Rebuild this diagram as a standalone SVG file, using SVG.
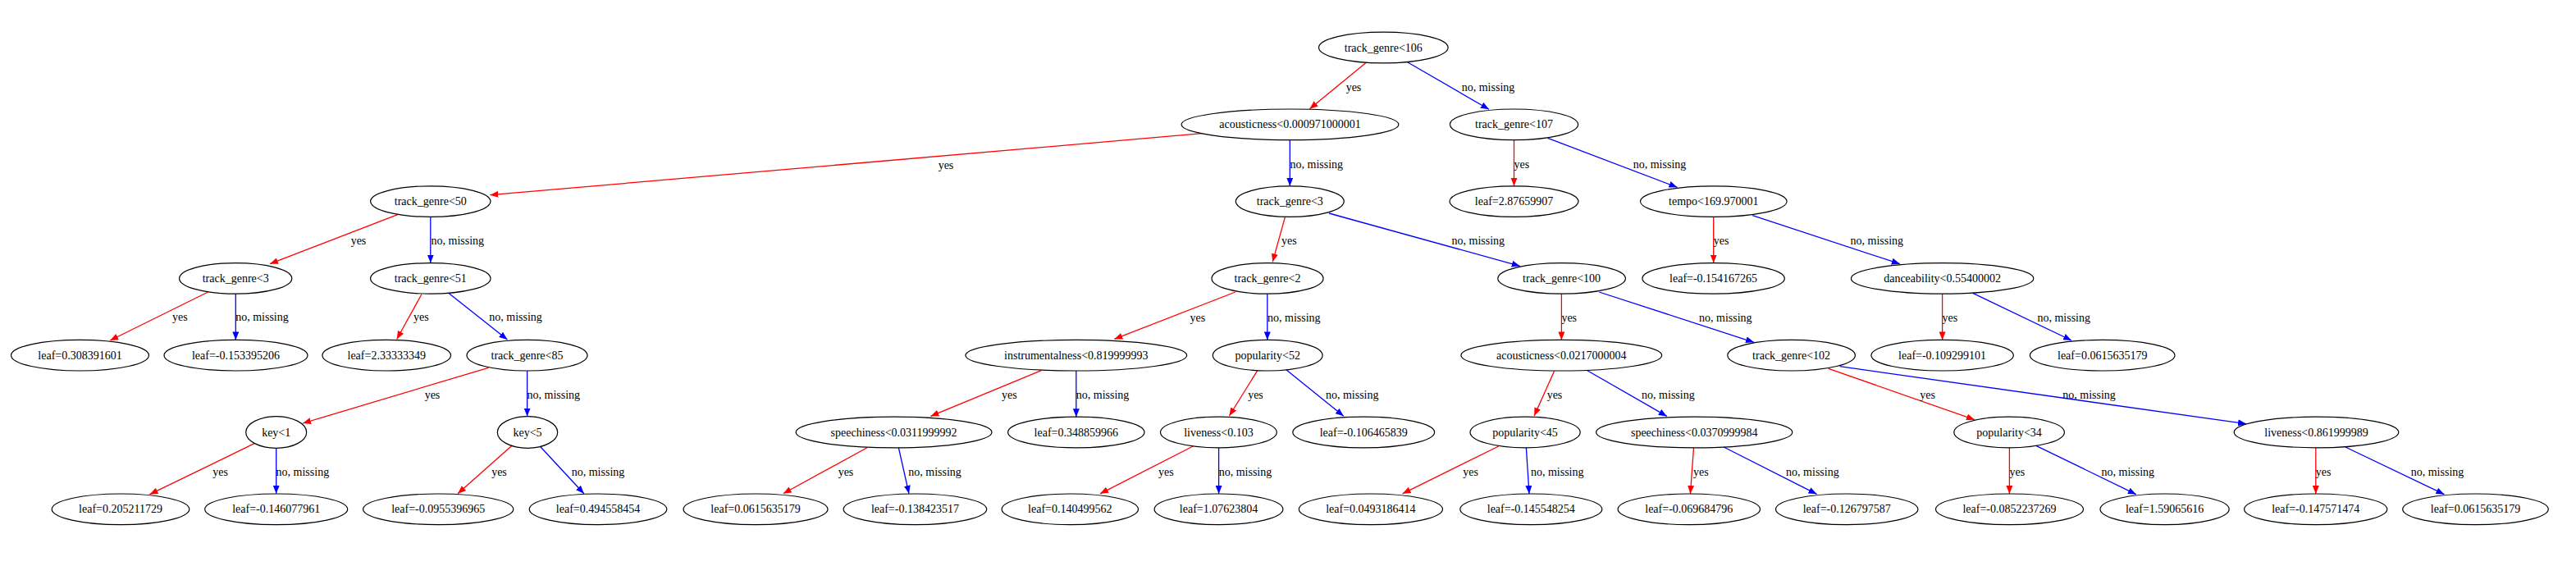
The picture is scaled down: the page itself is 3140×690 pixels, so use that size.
<svg xmlns="http://www.w3.org/2000/svg" width="3140" height="690" viewBox="0 0 3140 690">
<style>
text{font-family:"Liberation Serif","Times New Roman",serif;font-size:14px;fill:#000}
.n ellipse{fill:none;stroke:#000;stroke-width:1.2}
.n text{text-anchor:middle}
.y{stroke:#ff0000;stroke-width:1.3;fill:none;marker-end:url(#ar)}
.b{stroke:#0000ff;stroke-width:1.3;fill:none;marker-end:url(#ab)}
.m{text-anchor:middle}
.s{text-anchor:start}
</style>
<defs>
<marker id="ar" viewBox="0 0 10 8" refX="10" refY="4" markerWidth="10" markerHeight="8" markerUnits="userSpaceOnUse" orient="auto"><path d="M0,0 L10,4 L0,8 z" fill="#ff0000"/></marker>
<marker id="ab" viewBox="0 0 10 8" refX="10" refY="4" markerWidth="10" markerHeight="8" markerUnits="userSpaceOnUse" orient="auto"><path d="M0,0 L10,4 L0,8 z" fill="#0000ff"/></marker>
</defs>
<rect width="3140" height="690" fill="#fff"/>
<g id="edges">
<line class="y" x1="1664.7" y1="76.7" x2="1596.4" y2="132.7"/><text class="m" x="1650" y="111.2">yes</text>
<line class="b" x1="1716" y1="76" x2="1815" y2="133.3"/><text class="m" x="1814" y="111.2">no, missing</text>
<line class="y" x1="1465" y1="162.7" x2="597.3" y2="237.7"/><text class="m" x="1153" y="205.5">yes</text>
<line class="b" x1="1572.3" y1="170.7" x2="1572.3" y2="226.8"/><text class="s" x="1572.5" y="204.5">no, missing</text>
<line class="y" x1="1845.5" y1="170.6" x2="1845.5" y2="226.8"/><text class="s" x="1845.5" y="204.5">yes</text>
<line class="b" x1="1886.6" y1="168.3" x2="2044.4" y2="228.3"/><text class="m" x="2023" y="204.5">no, missing</text>
<line class="y" x1="484.7" y1="261.7" x2="329" y2="321.7"/><text class="m" x="437" y="297.8">yes</text>
<line class="b" x1="524.8" y1="264.5" x2="524.8" y2="320.6"/><text class="s" x="525.5" y="297.8">no, missing</text>
<line class="y" x1="1566.5" y1="264.3" x2="1551.2" y2="319.3"/><text class="s" x="1562" y="297.8">yes</text>
<line class="b" x1="1620" y1="260" x2="1852.7" y2="324.3"/><text class="m" x="1801.8" y="297.8">no, missing</text>
<line class="y" x1="2088.7" y1="264.3" x2="2088.7" y2="320.6"/><text class="s" x="2088.7" y="297.8">yes</text>
<line class="b" x1="2136.2" y1="262.7" x2="2315.8" y2="321.7"/><text class="m" x="2287.8" y="297.8">no, missing</text>
<line class="y" x1="253.6" y1="356" x2="134.2" y2="415"/><text class="m" x="219.4" y="391.2">yes</text>
<line class="b" x1="287.3" y1="358.2" x2="287.3" y2="414.4"/><text class="s" x="287.2" y="391.2">no, missing</text>
<line class="y" x1="513.8" y1="359" x2="483.7" y2="413.5"/><text class="s" x="504" y="391.2">yes</text>
<line class="b" x1="547.4" y1="357.7" x2="618.4" y2="414"/><text class="m" x="628.6" y="391.2">no, missing</text>
<line class="y" x1="1505.8" y1="356" x2="1358.3" y2="413.4"/><text class="m" x="1459.9" y="391.8">yes</text>
<line class="b" x1="1544.8" y1="358.2" x2="1544.8" y2="414.4"/><text class="s" x="1545" y="391.8">no, missing</text>
<line class="y" x1="1903.4" y1="358.2" x2="1903.4" y2="414.4"/><text class="s" x="1903.4" y="391.8">yes</text>
<line class="b" x1="1949.2" y1="356" x2="2138" y2="417.3"/><text class="m" x="2103.3" y="391.8">no, missing</text>
<line class="y" x1="2367.6" y1="358.2" x2="2367.6" y2="414.4"/><text class="s" x="2367.6" y="391.8">yes</text>
<line class="b" x1="2404.8" y1="357.3" x2="2525" y2="415"/><text class="m" x="2515.7" y="391.8">no, missing</text>
<line class="y" x1="595.3" y1="448.3" x2="369.1" y2="516"/><text class="m" x="527" y="485.5">yes</text>
<line class="b" x1="642.6" y1="452" x2="642.6" y2="507.6"/><text class="s" x="642.5" y="485.5">no, missing</text>
<line class="y" x1="1269.3" y1="451.7" x2="1134.4" y2="507.4"/><text class="m" x="1230.3" y="485.5">yes</text>
<line class="b" x1="1311.8" y1="452" x2="1311.8" y2="508.2"/><text class="s" x="1311.8" y="485.5">no, missing</text>
<line class="y" x1="1532.8" y1="451.7" x2="1498.4" y2="507"/><text class="m" x="1530.5" y="485.5">yes</text>
<line class="b" x1="1567.8" y1="450.7" x2="1637.8" y2="507.3"/><text class="m" x="1648.2" y="485.5">no, missing</text>
<line class="y" x1="1894.6" y1="452.3" x2="1870.1" y2="507"/><text class="m" x="1895" y="485.5">yes</text>
<line class="b" x1="1934.9" y1="451.7" x2="2031.8" y2="507.4"/><text class="m" x="2033.4" y="485.5">no, missing</text>
<line class="y" x1="2228.8" y1="449.3" x2="2407" y2="511.7"/><text class="m" x="2349.7" y="485.5">yes</text>
<line class="b" x1="2242.6" y1="446.7" x2="2738" y2="516.7"/><text class="m" x="2546.6" y="485.5">no, missing</text>
<line class="y" x1="310" y1="540.7" x2="182.5" y2="602.7"/><text class="m" x="268.7" y="579.5">yes</text>
<line class="b" x1="336.7" y1="546.3" x2="336.7" y2="601.8"/><text class="s" x="336.6" y="579.5">no, missing</text>
<line class="y" x1="624" y1="543.3" x2="558" y2="601.8"/><text class="m" x="608.5" y="579.5">yes</text>
<line class="b" x1="658.4" y1="544.3" x2="711.8" y2="601.8"/><text class="m" x="729" y="579.5">no, missing</text>
<line class="y" x1="1056.9" y1="545.7" x2="954.7" y2="601.8"/><text class="m" x="1031" y="579.5">yes</text>
<line class="b" x1="1095.4" y1="546" x2="1108" y2="601.8"/><text class="m" x="1139.6" y="579.5">no, missing</text>
<line class="y" x1="1454.2" y1="544" x2="1341" y2="601.8"/><text class="m" x="1421.4" y="579.5">yes</text>
<line class="b" x1="1485.6" y1="546" x2="1485.6" y2="602"/><text class="s" x="1485.7" y="579.5">no, missing</text>
<line class="y" x1="1826.7" y1="544" x2="1709.6" y2="601.8"/><text class="m" x="1792.6" y="579.5">yes</text>
<line class="b" x1="1860.4" y1="546" x2="1864" y2="602"/><text class="m" x="1898.2" y="579.5">no, missing</text>
<line class="y" x1="2064.5" y1="546" x2="2060.4" y2="602"/><text class="s" x="2064" y="579.5">yes</text>
<line class="b" x1="2101.2" y1="545" x2="2214.5" y2="602.3"/><text class="m" x="2209.4" y="579.5">no, missing</text>
<line class="y" x1="2449.4" y1="546" x2="2449.4" y2="602"/><text class="s" x="2449.5" y="579.5">yes</text>
<line class="b" x1="2481.9" y1="543.3" x2="2603.8" y2="602.7"/><text class="m" x="2593.8" y="579.5">no, missing</text>
<line class="y" x1="2822.8" y1="546" x2="2822.8" y2="602"/><text class="s" x="2822.7" y="579.5">yes</text>
<line class="b" x1="2859" y1="545" x2="2979.4" y2="602.7"/><text class="m" x="2971" y="579.5">no, missing</text>
</g>
<g id="n0" class="n"><ellipse cx="1686.3" cy="58" rx="78.8" ry="18.8"/><text x="1686.3" y="62.5">track_genre&lt;106</text></g>
<g id="n1" class="n"><ellipse cx="1572.5" cy="151.8" rx="132.4" ry="18.8"/><text x="1572.5" y="156.3">acousticness&lt;0.000971000001</text></g>
<g id="n2" class="n"><ellipse cx="1845.5" cy="151.8" rx="78.1" ry="18.8"/><text x="1845.5" y="156.3">track_genre&lt;107</text></g>
<g id="n3" class="n"><ellipse cx="524.8" cy="245.6" rx="73.2" ry="18.8"/><text x="524.8" y="250.1">track_genre&lt;50</text></g>
<g id="n4" class="n"><ellipse cx="1572.3" cy="245.6" rx="66" ry="18.8"/><text x="1572.3" y="250.1">track_genre&lt;3</text></g>
<g id="n5" class="n"><ellipse cx="1845.5" cy="245.6" rx="78.5" ry="18.8"/><text x="1845.5" y="250.1">leaf=2.87659907</text></g>
<g id="n6" class="n"><ellipse cx="2088.8" cy="245.6" rx="89.3" ry="18.8"/><text x="2088.8" y="250.1">tempo&lt;169.970001</text></g>
<g id="n7" class="n"><ellipse cx="287.2" cy="339.4" rx="68.6" ry="18.8"/><text x="287.2" y="343.9">track_genre&lt;3</text></g>
<g id="n8" class="n"><ellipse cx="524.8" cy="339.4" rx="73.2" ry="18.8"/><text x="524.8" y="343.9">track_genre&lt;51</text></g>
<g id="n9" class="n"><ellipse cx="1545" cy="339.4" rx="68" ry="18.8"/><text x="1545" y="343.9">track_genre&lt;2</text></g>
<g id="n10" class="n"><ellipse cx="1903.6" cy="339.4" rx="77.8" ry="18.8"/><text x="1903.6" y="343.9">track_genre&lt;100</text></g>
<g id="n11" class="n"><ellipse cx="2088.6" cy="339.4" rx="86.7" ry="18.8"/><text x="2088.6" y="343.9">leaf=-0.154167265</text></g>
<g id="n12" class="n"><ellipse cx="2367.6" cy="339.4" rx="111.2" ry="18.8"/><text x="2367.6" y="343.9">danceability&lt;0.55400002</text></g>
<g id="n13" class="n"><ellipse cx="97.5" cy="433.2" rx="84" ry="18.8"/><text x="97.5" y="437.7">leaf=0.308391601</text></g>
<g id="n14" class="n"><ellipse cx="287.5" cy="433.2" rx="87.5" ry="18.8"/><text x="287.5" y="437.7">leaf=-0.153395206</text></g>
<g id="n15" class="n"><ellipse cx="471.2" cy="433.2" rx="78.3" ry="18.8"/><text x="471.2" y="437.7">leaf=2.33333349</text></g>
<g id="n16" class="n"><ellipse cx="642.5" cy="433.2" rx="73.5" ry="18.8"/><text x="642.5" y="437.7">track_genre&lt;85</text></g>
<g id="n17" class="n"><ellipse cx="1311.8" cy="433.2" rx="134.9" ry="18.8"/><text x="1311.8" y="437.7">instrumentalness&lt;0.819999993</text></g>
<g id="n18" class="n"><ellipse cx="1545.2" cy="433.2" rx="66.9" ry="18.8"/><text x="1545.2" y="437.7">popularity&lt;52</text></g>
<g id="n19" class="n"><ellipse cx="1903.3" cy="433.2" rx="122.4" ry="18.8"/><text x="1903.3" y="437.7">acousticness&lt;0.0217000004</text></g>
<g id="n20" class="n"><ellipse cx="2183.6" cy="433.2" rx="77.8" ry="18.8"/><text x="2183.6" y="437.7">track_genre&lt;102</text></g>
<g id="n21" class="n"><ellipse cx="2367.6" cy="433.2" rx="86.7" ry="18.8"/><text x="2367.6" y="437.7">leaf=-0.109299101</text></g>
<g id="n22" class="n"><ellipse cx="2562.7" cy="433.2" rx="88.3" ry="18.8"/><text x="2562.7" y="437.7">leaf=0.0615635179</text></g>
<g id="n23" class="n"><ellipse cx="336.7" cy="527" rx="37" ry="19.3"/><text x="336.7" y="531.5">key&lt;1</text></g>
<g id="n24" class="n"><ellipse cx="643" cy="527" rx="36.7" ry="19.3"/><text x="643" y="531.5">key&lt;5</text></g>
<g id="n25" class="n"><ellipse cx="1089.6" cy="527" rx="119.4" ry="18.8"/><text x="1089.6" y="531.5">speechiness&lt;0.0311999992</text></g>
<g id="n26" class="n"><ellipse cx="1311.8" cy="527" rx="83.2" ry="18.8"/><text x="1311.8" y="531.5">leaf=0.348859966</text></g>
<g id="n27" class="n"><ellipse cx="1485.4" cy="527" rx="70.9" ry="18.8"/><text x="1485.4" y="531.5">liveness&lt;0.103</text></g>
<g id="n28" class="n"><ellipse cx="1662.2" cy="527" rx="86.4" ry="18.8"/><text x="1662.2" y="531.5">leaf=-0.106465839</text></g>
<g id="n29" class="n"><ellipse cx="1859.1" cy="527" rx="67.1" ry="18.8"/><text x="1859.1" y="531.5">popularity&lt;45</text></g>
<g id="n30" class="n"><ellipse cx="2065.2" cy="527" rx="119.6" ry="18.8"/><text x="2065.2" y="531.5">speechiness&lt;0.0370999984</text></g>
<g id="n31" class="n"><ellipse cx="2449.1" cy="527" rx="67.3" ry="18.8"/><text x="2449.1" y="531.5">popularity&lt;34</text></g>
<g id="n32" class="n"><ellipse cx="2823.5" cy="527" rx="100.3" ry="18.8"/><text x="2823.5" y="531.5">liveness&lt;0.861999989</text></g>
<g id="n33" class="n"><ellipse cx="147" cy="620.8" rx="83.8" ry="18.8"/><text x="147" y="625.3">leaf=0.205211729</text></g>
<g id="n34" class="n"><ellipse cx="336.7" cy="620.8" rx="87" ry="18.8"/><text x="336.7" y="625.3">leaf=-0.146077961</text></g>
<g id="n35" class="n"><ellipse cx="534.2" cy="620.8" rx="91.6" ry="18.8"/><text x="534.2" y="625.3">leaf=-0.0955396965</text></g>
<g id="n36" class="n"><ellipse cx="729" cy="620.8" rx="83.8" ry="18.8"/><text x="729" y="625.3">leaf=0.494558454</text></g>
<g id="n37" class="n"><ellipse cx="921" cy="620.8" rx="88" ry="18.8"/><text x="921" y="625.3">leaf=0.0615635179</text></g>
<g id="n38" class="n"><ellipse cx="1115.4" cy="620.8" rx="87.3" ry="18.8"/><text x="1115.4" y="625.3">leaf=-0.138423517</text></g>
<g id="n39" class="n"><ellipse cx="1304.3" cy="620.8" rx="83.2" ry="18.8"/><text x="1304.3" y="625.3">leaf=0.140499562</text></g>
<g id="n40" class="n"><ellipse cx="1485.5" cy="620.8" rx="78.4" ry="18.8"/><text x="1485.5" y="625.3">leaf=1.07623804</text></g>
<g id="n41" class="n"><ellipse cx="1670.9" cy="620.8" rx="87.6" ry="18.8"/><text x="1670.9" y="625.3">leaf=0.0493186414</text></g>
<g id="n42" class="n"><ellipse cx="1866.3" cy="620.8" rx="86.5" ry="18.8"/><text x="1866.3" y="625.3">leaf=-0.145548254</text></g>
<g id="n43" class="n"><ellipse cx="2058.8" cy="620.8" rx="86.7" ry="18.8"/><text x="2058.8" y="625.3">leaf=-0.069684796</text></g>
<g id="n44" class="n"><ellipse cx="2251.2" cy="620.8" rx="86.7" ry="18.8"/><text x="2251.2" y="625.3">leaf=-0.126797587</text></g>
<g id="n45" class="n"><ellipse cx="2449.5" cy="620.8" rx="90" ry="18.8"/><text x="2449.5" y="625.3">leaf=-0.0852237269</text></g>
<g id="n46" class="n"><ellipse cx="2638.6" cy="620.8" rx="78.6" ry="18.8"/><text x="2638.6" y="625.3">leaf=1.59065616</text></g>
<g id="n47" class="n"><ellipse cx="2822.7" cy="620.8" rx="87.1" ry="18.8"/><text x="2822.7" y="625.3">leaf=-0.147571474</text></g>
<g id="n48" class="n"><ellipse cx="3017.5" cy="620.8" rx="88.8" ry="18.8"/><text x="3017.5" y="625.3">leaf=0.0615635179</text></g>
</svg>
